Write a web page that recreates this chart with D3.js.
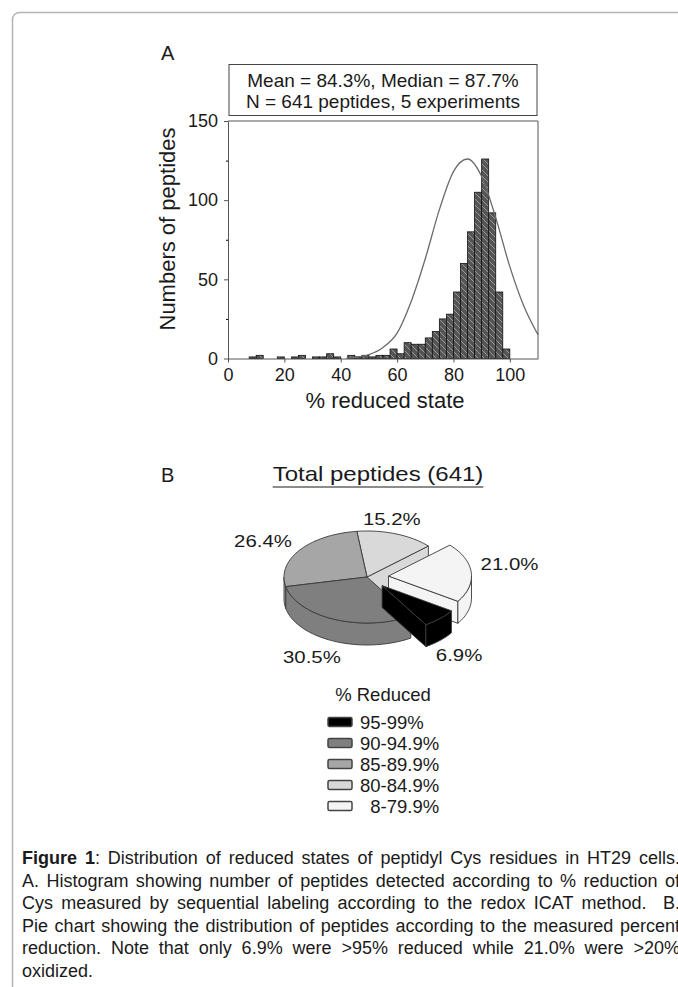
<!DOCTYPE html>
<html>
<head>
<meta charset="utf-8">
<script src="https://cdn.jsdelivr.net/npm/d3@7"></script>
<style>
  body { margin: 0; background: #fff; }
  svg { display: block; font-family: "Liberation Sans", Arial, sans-serif; }
</style>
</head>
<body>
<svg id="fig" width="678" height="987"></svg>
<script>
// ---- Panel A data: histogram of % reduced state (bin left edges, 2.5 wide) ----
const binStarts = [7.5, 10, 17.5, 22.5, 25, 30, 32.5, 35, 37.5, 42.5, 45, 47.5, 50, 52.5, 55, 57.5,
  60, 62.5, 65, 67.5, 70, 72.5, 75, 77.5, 80, 82.5, 85, 87.5, 90, 92.5, 95, 97.5];
const binCounts = [1, 2, 1, 1, 2, 1, 1, 3, 1, 2, 1, 2, 1, 2, 2, 6,
  3, 10, 9, 9, 13, 17, 25, 28, 42, 60, 80, 105, 126, 92, 42, 6];
const binWidth = 2.5;

// grey fitted curve
const curveX = [42, 45, 50, 55, 60, 65, 70, 75, 80, 85, 90, 95, 100, 105, 110];
const curveY = [0.3, 0.8, 2.5, 7, 16, 36, 63, 94, 118, 126, 115, 89, 58, 33, 15];

const xTicks = [0, 20, 40, 60, 80, 100];
const yTicks = [0, 50, 100, 150];
const yMinorTicks = [25, 75, 125];
const statsLines = ["Mean = 84.3%, Median = 87.7%", "N = 641 peptides, 5 experiments"];

// ---- Panel B data: pie of peptides by % reduced ----
const pieLabels = ["95-99%", "90-94.9%", "85-89.9%", "80-84.9%", "8-79.9%"];
const piePercents = [6.9, 30.5, 26.4, 15.2, 21.0];
const pieExploded = [true, false, false, false, true];
const pieTitle = "Total peptides (641)";

const captionLines = [
  "Distribution of reduced states of peptidyl Cys residues in HT29 cells.",
  "A. Histogram showing number of peptides detected according to % reduction of",
  "Cys measured by sequential labeling according to the redox ICAT method.  B.",
  "Pie chart showing the distribution of peptides according to the measured percent",
  "reduction. Note that only 6.9% were >95% reduced while 21.0% were >20%",
  "oxidized."
];

// styles
const pieColors = ["#000000", "#7f7f7f", "#a6a6a6", "#d9d9d9", "#f4f4f4"];
const labelNudge = [[-7, 0], [-8, -3], [-6, 3], [-17, 5], [1, -7]];
const ink = "#1a1a1a";

let svg = d3.select("#fig");

// outer frame of the figure box
svg.append("rect")
  .attr("x", 12.5).attr("y", 12.5)
  .attr("width", 720).attr("height", 1000)
  .attr("rx", 7)
  .attr("fill", "none")
  .attr("stroke", "#b4b4b4")
  .attr("stroke-width", 1.5);

// ================= Panel A =================
let x = d3.scaleLinear().domain([0, 110]).range([228, 538]);
let y = d3.scaleLinear().domain([0, 150]).range([358.5, 121]);

svg.append("text").attr("x", 161).attr("y", 60)
  .attr("font-size", 20).attr("fill", ink).text("A");

// stats box
svg.append("rect")
  .attr("x", x(0) + 1).attr("y", 64.5)
  .attr("width", x(110) - x(0) - 2).attr("height", 51)
  .attr("fill", "none").attr("stroke", "#444").attr("stroke-width", 1);

statsLines.forEach((line, i) => {
  svg.append("text")
    .attr("x", (x(0) + x(110)) / 2).attr("y", 87 + i * 21)
    .attr("text-anchor", "middle")
    .attr("font-size", 19).attr("fill", ink)
    .text(line);
});

// hatch fill for bars
let defs = svg.append("defs");
let pat = defs.append("pattern")
  .attr("id", "hatch")
  .attr("patternUnits", "userSpaceOnUse")
  .attr("width", 6).attr("height", 6);
pat.append("rect").attr("width", 6).attr("height", 6).attr("fill", "#555");
pat.append("path").attr("d", "M-1,-1 L7,7 M-1,5 L1,7 M5,-1 L7,1")
  .attr("stroke", "#aaa").attr("stroke-width", 0.8);

let bins = binStarts.map((s, i) => ({ x0: s, x1: s + binWidth, n: binCounts[i] }));

svg.append("g").selectAll("rect")
  .data(bins)
  .join("rect")
  .attr("x", d => x(d.x0))
  .attr("y", d => y(d.n))
  .attr("width", d => x(d.x1) - x(d.x0))
  .attr("height", d => y(0) - y(d.n))
  .attr("fill", "url(#hatch)")
  .attr("stroke", "#111")
  .attr("stroke-width", 0.8);

// fitted curve
let curvePts = curveX.map((v, i) => [v, curveY[i]]);
svg.append("path")
  .attr("d", d3.line().x(d => x(d[0])).y(d => y(d[1])).curve(d3.curveMonotoneX)(curvePts))
  .attr("fill", "none")
  .attr("stroke", "#6b6b6b")
  .attr("stroke-width", 1.3);

// plot box (top + right) and axes
svg.append("path")
  .attr("d", `M${x(0)},${y(150)} H${x(110)} V${y(0)}`)
  .attr("fill", "none").attr("stroke", "#555").attr("stroke-width", 1);

let xAxis = svg.append("g")
  .attr("transform", `translate(0,${y(0)})`)
  .call(d3.axisBottom(x).tickValues(xTicks).tickSize(4).tickPadding(6).tickSizeOuter(0));
let yAxis = svg.append("g")
  .attr("transform", `translate(${x(0)},0)`)
  .call(d3.axisLeft(y).tickValues(yTicks).tickSize(4).tickPadding(6).tickSizeOuter(0));
svg.append("g")
  .attr("transform", `translate(${x(0)},0)`)
  .call(d3.axisLeft(y).tickValues(yMinorTicks).tickSize(2).tickFormat(""))
  .select(".domain").remove();

[xAxis, yAxis].forEach(g => {
  g.selectAll("text").attr("font-size", 18).attr("fill", ink).attr("font-family", null);
  g.selectAll("line").attr("stroke", "#555");
  g.select(".domain").attr("stroke", "#555");
});

svg.append("text")
  .attr("x", 385).attr("y", 408)
  .attr("text-anchor", "middle")
  .attr("font-size", 22).attr("fill", ink)
  .text("% reduced state");

svg.append("text")
  .attr("transform", "translate(175,229) rotate(-90)")
  .attr("text-anchor", "middle")
  .attr("font-size", 22).attr("fill", ink)
  .text("Numbers of peptides");

// ================= Panel B =================
svg.append("text").attr("x", 161).attr("y", 482)
  .attr("font-size", 20).attr("fill", ink).text("B");

let title = svg.append("text")
  .attr("transform", "translate(378,481) scale(1.2,1)")
  .attr("text-anchor", "middle")
  .attr("font-size", 20).attr("fill", ink)
  .text(pieTitle);
let tw = title.node().getComputedTextLength() * 1.2;
svg.append("line")
  .attr("x1", 378 - tw / 2).attr("x2", 378 + tw / 2)
  .attr("y1", 487).attr("y2", 487)
  .attr("stroke", ink).attr("stroke-width", 1.2);

// pseudo-3D pie: elliptical top face plus extruded walls
const cx = 367, cy = 577, rx = 83, ry = 46, depth = 22, explode = 0.26;
const pieStart = 123.3 * Math.PI / 180;

let pie = d3.pie().sort(null).value(d => d)
  .startAngle(pieStart).endAngle(pieStart + 2 * Math.PI);
let slices = pie(piePercents).map((d, i) => {
  let mid = (d.startAngle + d.endAngle) / 2;
  let e = pieExploded[i] ? explode : 0;
  return {
    ...d, i, mid,
    ox: e * rx * Math.sin(mid),
    oy: -e * ry * Math.cos(mid)
  };
});

function pt(s, a, dz) {
  return [cx + s.ox + rx * Math.sin(a), cy + s.oy - ry * Math.cos(a) + dz];
}
function arcPts(s, a0, a1, dz) {
  let n = Math.max(2, Math.ceil((a1 - a0) / 0.04));
  return d3.range(n + 1).map(k => pt(s, a0 + (a1 - a0) * k / n, dz));
}
let poly = d3.line();

// back-to-front: flat slices by depth, exploded ones last
let order = slices.slice().sort((a, b) =>
  (pieExploded[a.i] - pieExploded[b.i]) || (-Math.cos(a.mid) + Math.cos(b.mid)));

let pieG = svg.append("g")
  .attr("stroke", "#3a3a3a")
  .attr("stroke-width", 0.9)
  .attr("stroke-linejoin", "round");

order.forEach(s => {
  let fill = pieColors[s.i];
  let c0 = [cx + s.ox, cy + s.oy];
  let c1 = [c0[0], c0[1] + depth];

  // radial walls that face the viewer
  if (Math.sin(s.startAngle) < 0) {
    let p = pt(s, s.startAngle, 0), q = pt(s, s.startAngle, depth);
    pieG.append("path").attr("d", poly([c0, p, q, c1]) + "Z").attr("fill", fill);
  }
  if (Math.sin(s.endAngle) > 0) {
    let p = pt(s, s.endAngle, 0), q = pt(s, s.endAngle, depth);
    pieG.append("path").attr("d", poly([c0, p, q, c1]) + "Z").attr("fill", fill);
  }

  // outer wall on the front half of the ellipse
  [[Math.PI / 2, 1.5 * Math.PI], [2.5 * Math.PI, 3.5 * Math.PI]].forEach(([lo, hi]) => {
    let a0 = Math.max(s.startAngle, lo), a1 = Math.min(s.endAngle, hi);
    if (a0 < a1) {
      let pts = arcPts(s, a0, a1, 0).concat(arcPts(s, a0, a1, depth).reverse());
      pieG.append("path").attr("d", poly(pts) + "Z").attr("fill", fill);
    }
  });

  // top face
  let top = [c0].concat(arcPts(s, s.startAngle, s.endAngle, 0));
  pieG.append("path").attr("d", poly(top) + "Z").attr("fill", fill);
});

// percentage labels outside the slices
slices.forEach(s => {
  let front = -Math.cos(s.mid) > 0 ? depth : 0;
  let lx = cx + s.ox + 1.45 * rx * Math.sin(s.mid) + labelNudge[s.i][0];
  let ly = cy + s.oy - 1.45 * ry * Math.cos(s.mid) + front + labelNudge[s.i][1];
  svg.append("text")
    .attr("transform", `translate(${lx},${ly}) scale(1.2,1)`)
    .attr("dy", "0.35em")
    .attr("text-anchor", "middle")
    .attr("font-size", 17).attr("fill", ink)
    .text(d3.format(".1f")(piePercents[s.i]) + "%");
});

// legend
svg.append("text")
  .attr("x", 383).attr("y", 701)
  .attr("text-anchor", "middle")
  .attr("font-size", 18.5).attr("fill", ink)
  .text("% Reduced");

let legend = svg.append("g").selectAll("g")
  .data(pieLabels)
  .join("g")
  .attr("transform", (d, i) => `translate(328,${722 + i * 21})`);

legend.append("rect")
  .attr("x", 0).attr("y", -4.5)
  .attr("width", 24).attr("height", 9)
  .attr("rx", 1.5)
  .attr("fill", (d, i) => pieColors[i])
  .attr("stroke", "#444").attr("stroke-width", 1.5);

legend.append("text")
  .attr("x", 32).attr("dy", "0.36em")
  .attr("font-size", 18.5).attr("fill", ink)
  .style("white-space", "pre")
  .text(d => d.length < 8 && d.indexOf(".") > 0 ? "  " + d : d);

// ================= caption =================
const capLeft = 22, capRight = 680, capTop = 864, capStep = 22.5;
captionLines.forEach((line, i) => {
  let t = svg.append("text")
    .attr("x", capLeft).attr("y", capTop + i * capStep)
    .attr("font-size", 18).attr("fill", ink)
    .style("white-space", "pre");
  if (i === 0) {
    t.append("tspan").attr("font-weight", "bold").text("Figure 1");
    t.append("tspan").text(": " + line);
  } else {
    t.text(line);
  }
  // justify all but the last line
  if (i < captionLines.length - 1) {
    let full = (i === 0 ? "Figure 1: " : "") + line;
    let gaps = (full.match(/ /g) || []).length;
    let extra = capRight - capLeft - t.node().getComputedTextLength();
    if (gaps > 0) t.attr("word-spacing", extra / gaps);
  }
});
</script>
</body>
</html>
